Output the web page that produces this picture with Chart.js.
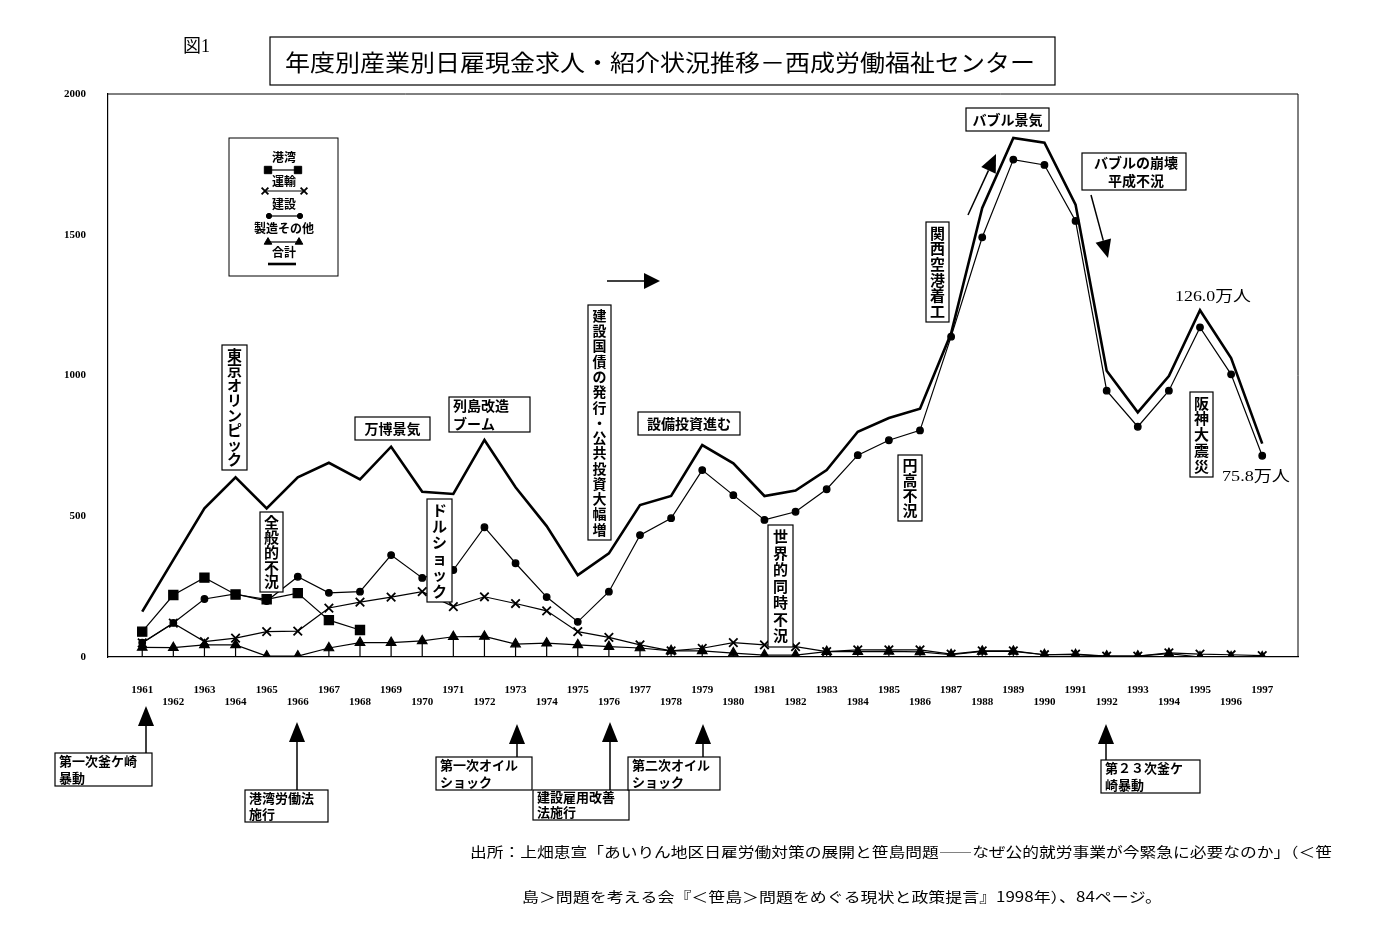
<!DOCTYPE html>
<html>
<head>
<meta charset="utf-8">
<script src="https://cdn.jsdelivr.net/npm/chart.js@4.4.1/dist/chart.umd.min.js"></script>
<style>
  body { margin: 0; background: #fff; }
</style>
</head>
<body>
<canvas id="jobChart" width="1385" height="943"></canvas>
<script>
// 年度 (1961-1997)
const years = [1961, 1962, 1963, 1964, 1965, 1966, 1967, 1968, 1969, 1970,
  1971, 1972, 1973, 1974, 1975, 1976, 1977, 1978, 1979, 1980,
  1981, 1982, 1983, 1984, 1985, 1986, 1987, 1988, 1989, 1990,
  1991, 1992, 1993, 1994, 1995, 1996, 1997];

// 千人
const total = [161, 345, 528, 638, 528, 638, 690, 631, 747, 587,
  579, 771, 603, 465, 291, 368, 540, 572, 753, 688,
  572, 591, 664, 800, 849, 882, 1150, 1595, 1844, 1827,
  1607, 1017, 869, 998, 1232, 1062, 758];
const construction = [51, 121, 206, 224, 199, 285, 228, 232, 362, 281,
  309, 461, 333, 213, 125, 232, 433, 493, 664, 575,
  487, 516, 596, 717, 770, 805, 1138, 1491, 1767, 1748,
  1549, 946, 818, 946, 1171, 1004, 715];
const harbor = [90, 220, 282, 222, 205, 227, 131, 96, null, null,
  null, null, null, null, null, null, null, null, null, null,
  null, null, null, null, null, null, null, null, null, null,
  null, null, null, null, null, null, null];
const transport = [50, 120, 55, 67, 90, 92, 174, 195, 213, 232,
  179, 214, 190, 164, 90, 70, 43, 22, 31, 51,
  43, 37, 19, 25, 25, 25, 10, 22, 22, 8,
  10, 3, 3, 15, 10, 8, 5];
const manufacturing = [34, 33, 43, 43, 3, 3, 32, 51, 51, 57,
  72, 73, 46, 49, 43, 37, 32, 22, 22, 14,
  7, 7, 19, 19, 20, 18, 8, 20, 20, 8,
  8, 3, 3, 12, 0, 0, 0];

const yTicks = [0, 500, 1000, 1500, 2000];

const JP = '"Noto Sans CJK JP", sans-serif';
const SERIF = '"Liberation Serif", "Noto Sans CJK JP", serif';

const pts = arr => years.map((yr, i) => ({ x: yr, y: arr[i] }));

// draw text stretched or squeezed to an exact width
function fitText(ctx, text, x, y, width) {
  const w = ctx.measureText(text).width;
  ctx.save();
  ctx.translate(x, y);
  ctx.scale(width / w, 1);
  ctx.textAlign = 'left';
  ctx.fillText(text, 0, 0);
  ctx.restore();
}

function vbox(ctx, cx, top, bottom, text, w, size) {
  const chars = Array.from(text);
  ctx.fillStyle = '#fff';
  ctx.fillRect(cx - w / 2, top, w, bottom - top);
  ctx.strokeStyle = '#000';
  ctx.lineWidth = 1.2;
  ctx.strokeRect(cx - w / 2, top, w, bottom - top);
  const step = (bottom - top - 6) / chars.length;
  ctx.fillStyle = '#000';
  ctx.font = 'bold ' + size + 'px ' + JP;
  ctx.textAlign = 'center';
  ctx.textBaseline = 'middle';
  chars.forEach((c, i) => ctx.fillText(c, cx, top + 3 + step * (i + 0.5)));
}

function hbox(ctx, x1, y1, x2, y2, lines, size, align, tx) {
  ctx.fillStyle = '#fff';
  ctx.fillRect(x1, y1, x2 - x1, y2 - y1);
  ctx.strokeStyle = '#000';
  ctx.lineWidth = 1.2;
  ctx.strokeRect(x1, y1, x2 - x1, y2 - y1);
  ctx.fillStyle = '#000';
  ctx.font = 'bold ' + size + 'px ' + JP;
  ctx.textBaseline = 'middle';
  ctx.textAlign = align;
  const lh = (y2 - y1) / lines.length;
  lines.forEach((t, i) => {
    const x = align === 'center' ? (tx || (x1 + x2) / 2) : x1 + 4;
    ctx.fillText(t, x, y1 + lh * (i + 0.5), x2 - x1 - 6);
  });
}

function arrow(ctx, x1, y1, x2, y2, head, half) {
  const ang = Math.atan2(y2 - y1, x2 - x1);
  const bx = x2 - head * Math.cos(ang), by = y2 - head * Math.sin(ang);
  ctx.strokeStyle = '#000';
  ctx.lineWidth = 1.5;
  ctx.beginPath();
  ctx.moveTo(x1, y1);
  ctx.lineTo(bx, by);
  ctx.stroke();
  ctx.fillStyle = '#000';
  ctx.beginPath();
  ctx.moveTo(x2, y2);
  ctx.lineTo(bx + half * Math.sin(ang), by - half * Math.cos(ang));
  ctx.lineTo(bx - half * Math.sin(ang), by + half * Math.cos(ang));
  ctx.closePath();
  ctx.fill();
}

// triangle markers stand on stems down to the axis
const stems = {
  id: 'stems',
  beforeDatasetsDraw(chart) {
    const ctx = chart.ctx;
    const bottom = chart.chartArea.bottom;
    const meta = chart.getDatasetMeta(4);
    ctx.save();
    ctx.strokeStyle = '#000';
    ctx.lineWidth = 1.2;
    meta.data.forEach(p => {
      ctx.beginPath();
      ctx.moveTo(p.x, p.y);
      ctx.lineTo(p.x, bottom);
      ctx.stroke();
    });
    ctx.restore();
  }
};

const decor = {
  id: 'decor',
  afterDraw(chart) {
    const ctx = chart.ctx;
    const a = chart.chartArea;
    ctx.save();

    // frame
    ctx.strokeStyle = '#000';
    ctx.lineWidth = 1;
    ctx.beginPath();
    ctx.moveTo(a.left, a.top);
    ctx.lineTo(a.right, a.top);
    ctx.lineTo(a.right, a.bottom);
    ctx.stroke();

    // title
    ctx.fillStyle = '#000';
    ctx.textBaseline = 'middle';
    ctx.font = '18px ' + SERIF;
    fitText(ctx, '図1', 183, 47, 27);
    ctx.lineWidth = 1.2;
    ctx.strokeRect(270, 37, 785, 48);
    ctx.font = '23px ' + JP;
    fitText(ctx, '年度別産業別日雇現金求人・紹介状況推移－西成労働福祉センター', 285, 62, 750);

    // legend
    ctx.lineWidth = 1;
    ctx.strokeRect(229, 138, 109, 138);
    ctx.font = 'bold 12px ' + JP;
    ctx.textAlign = 'center';
    const legendRows = [
      { t: '港湾', ty: 157, ly: 170, x1: 268, x2: 298, ds: 2 },
      { t: '運輸', ty: 181, ly: 191, x1: 265, x2: 304, ds: 3 },
      { t: '建設', ty: 204, ly: 216, x1: 269, x2: 300, ds: 1 },
      { t: '製造その他', ty: 228, ly: 242, x1: 268, x2: 299, ds: 4 },
      { t: '合計', ty: 252, ly: 264, x1: 268, x2: 296, ds: 0 }
    ];
    legendRows.forEach(r => {
      const d = chart.data.datasets[r.ds];
      ctx.fillStyle = '#000';
      ctx.fillText(r.t, 284, r.ty);
      ctx.strokeStyle = '#000';
      ctx.lineWidth = d.borderWidth;
      ctx.beginPath();
      ctx.moveTo(r.x1, r.ly);
      ctx.lineTo(r.x2, r.ly);
      ctx.stroke();
      if (d.pointRadius > 0) {
        ctx.lineWidth = d.pointBorderWidth || 1;
        [r.x1, r.x2].forEach(x => Chart.helpers.drawPoint(ctx, {
          pointStyle: d.pointStyle, radius: d.pointRadius * 0.8, rotation: 0,
          borderWidth: d.pointBorderWidth || 1
        }, x, r.ly));
      }
    });

    // event labels inside the plot
    vbox(ctx, 234.5, 345, 470, '東京オリンピック', 25, 15);
    vbox(ctx, 271.5, 512, 592, '全般的不況', 23, 15);
    vbox(ctx, 439.5, 499, 602, 'ドルショック', 25, 15);
    vbox(ctx, 599.5, 305, 540, '建設国債の発行・公共投資大幅増', 23, 14);
    vbox(ctx, 780.5, 525, 647, '世界的同時不況', 25, 15);
    vbox(ctx, 910, 455, 521, '円高不況', 24, 15);
    vbox(ctx, 937.5, 222, 322, '関西空港着工', 23, 15);
    vbox(ctx, 1201.5, 392, 477, '阪神大震災', 23, 15);

    hbox(ctx, 355, 417, 430, 440, ['万博景気'], 14, 'center');
    hbox(ctx, 449, 397, 530, 432, ['列島改造', 'ブーム'], 14, 'left');
    hbox(ctx, 638, 412, 740, 435, ['設備投資進む'], 14, 'center');
    hbox(ctx, 966, 108, 1049, 131, ['バブル景気'], 14, 'center');
    hbox(ctx, 1082, 153, 1186, 190, ['バブルの崩壊', '平成不況'], 14, 'center', 1136);

    arrow(ctx, 607, 281, 660, 281, 16, 8);
    arrow(ctx, 968, 215, 996, 154, 18, 8);
    arrow(ctx, 1091, 195, 1108, 258, 18, 8);

    ctx.fillStyle = '#000';
    ctx.font = '15px ' + SERIF;
    ctx.textBaseline = 'middle';
    fitText(ctx, '126.0万人', 1175, 297, 76);
    fitText(ctx, '75.8万人', 1222, 477, 68);

    // events under the axis
    arrow(ctx, 146, 753, 146, 706, 20, 8);
    arrow(ctx, 297, 790, 297, 722, 20, 8);
    arrow(ctx, 517, 757, 517, 724, 20, 8);
    arrow(ctx, 610, 790, 610, 722, 20, 8);
    arrow(ctx, 703, 757, 703, 724, 20, 8);
    arrow(ctx, 1106, 760, 1106, 724, 20, 8);
    hbox(ctx, 55, 753, 152, 786, ['第一次釜ケ崎', '暴動'], 13, 'left');
    hbox(ctx, 245, 790, 328, 822, ['港湾労働法', '施行'], 13, 'left');
    hbox(ctx, 436, 757, 532, 790, ['第一次オイル', 'ショック'], 13, 'left');
    hbox(ctx, 533, 790, 629, 820, ['建設雇用改善', '法施行'], 13, 'left');
    hbox(ctx, 628, 757, 720, 790, ['第二次オイル', 'ショック'], 13, 'left');
    hbox(ctx, 1101, 760, 1200, 793, ['第２３次釜ケ', '崎暴動'], 13, 'left');

    // source
    ctx.fillStyle = '#000';
    ctx.font = '14px ' + JP;
    ctx.textBaseline = 'middle';
    fitText(ctx, '出所：上畑恵宣「あいりん地区日雇労働対策の展開と笹島問題――なぜ公的就労事業が今緊急に必要なのか」（＜笹', 470, 852, 862);
    fitText(ctx, '島＞問題を考える会『＜笹島＞問題をめぐる現状と政策提言』1998年）、84ページ。', 522, 897, 640);

    ctx.restore();
  }
};

new Chart(document.getElementById('jobChart'), {
  type: 'line',
  data: {
    datasets: [
      { label: '合計', data: pts(total), borderColor: '#000', borderWidth: 2.6,
        pointRadius: 0, tension: 0 },
      { label: '建設', data: pts(construction), borderColor: '#000', borderWidth: 1.2,
        pointStyle: 'circle', pointRadius: 3.3, pointBackgroundColor: '#000', pointBorderColor: '#000' },
      { label: '港湾', data: pts(harbor), borderColor: '#000', borderWidth: 1.2,
        pointStyle: 'rect', pointRadius: 6.5, pointBackgroundColor: '#000', pointBorderColor: '#000' },
      { label: '運輸', data: pts(transport), borderColor: '#000', borderWidth: 1.2,
        pointStyle: 'crossRot', pointRadius: 6, pointBorderWidth: 1.8, pointBorderColor: '#000' },
      { label: '製造その他', data: pts(manufacturing), borderColor: '#000', borderWidth: 1.2,
        pointStyle: 'triangle', pointRadius: 5.5, pointBackgroundColor: '#000', pointBorderColor: '#000' }
    ]
  },
  options: {
    responsive: false,
    animation: false,
    spanGaps: false,
    layout: { padding: { top: 94, right: 87, left: 0, bottom: 0 } },
    scales: {
      x: {
        type: 'linear',
        min: 1959.9,
        max: 1998.15,
        afterBuildTicks: scale => { scale.ticks = years.map(v => ({ value: v })); },
        afterFit: scale => { scale.height = 943 - 657; },
        grid: { display: false, drawTicks: false },
        border: { display: true, color: '#000', width: 1.2 },
        ticks: {
          autoSkip: false,
          maxRotation: 0,
          padding: 27,
          color: '#000',
          font: { family: 'Liberation Serif', weight: 'bold', size: 11, lineHeight: 1.1 },
          callback: v => (v % 2 ? String(v) : ['', String(v)])
        }
      },
      y: {
        min: 0,
        max: 2000,
        afterBuildTicks: scale => { scale.ticks = yTicks.map(v => ({ value: v })); },
        afterFit: scale => { scale.width = 108; },
        grid: { display: false, drawTicks: false },
        border: { display: true, color: '#000', width: 1.2 },
        ticks: {
          padding: 22,
          color: '#000',
          font: { family: 'Liberation Serif', weight: 'bold', size: 11 },
          callback: v => String(v)
        }
      }
    },
    plugins: {
      legend: { display: false },
      tooltip: { enabled: false },
      title: { display: false }
    }
  },
  plugins: [stems, decor]
});
</script>
</body>
</html>
